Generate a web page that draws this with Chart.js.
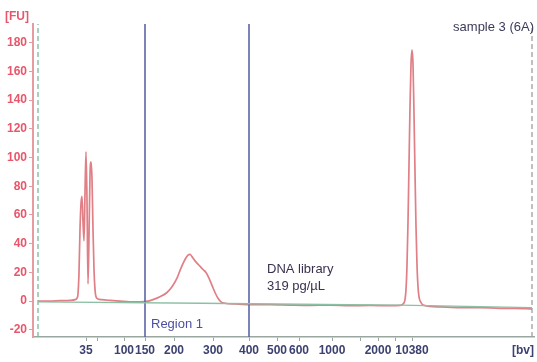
<!DOCTYPE html>
<html>
<head>
<meta charset="utf-8">
<script src="https://cdn.jsdelivr.net/npm/chart.js@4"></script>
<style>
  html, body { margin: 0; padding: 0; background: #fff; }
  #wrap { width: 537px; height: 362px; }
</style>
</head>
<body>
<div id="wrap"><canvas id="chart"></canvas></div>
<script>
// migration position (x) vs fluorescence [FU] (y)
const traceX = [38, 50, 60, 70, 75, 77, 78, 79, 80, 81, 82, 83, 84, 85, 86, 87, 88, 89, 90, 91, 92, 93, 94, 95, 96, 98, 102, 110, 120, 130, 140, 148,
  153, 160, 167, 172, 177, 181, 185, 188, 190, 192, 195, 199, 203, 206, 209, 212, 215, 218, 221, 225, 235, 250, 270, 290, 310, 330, 350, 370, 390, 400,
  403, 405, 406, 407, 408, 409, 410, 411, 412, 413, 414, 415, 416, 417, 418, 419, 421, 424, 440, 460, 480, 500, 515, 532];
const traceY = [0, 0, 0.3, 0.5, 1, 2, 5, 20, 50, 68, 73, 55, 42, 75, 104, 70, 12, 45, 88, 97, 85, 50, 22, 8, 3, 1.5, 1, 0.5, 0, -0.5, -0.5, 0,
  1, 3, 6, 10, 16, 23, 29, 32, 32.5, 31, 28, 25, 22, 20, 16, 11, 6, 2, -0.5, -1.5, -2, -2.5, -2.5, -2.8, -3, -2.8, -3.2, -3, -3.2, -3,
  -2, 1, 8, 25, 55, 95, 135, 165, 175, 165, 130, 90, 52, 25, 10, 3, -1, -3, -4, -4.5, -4.5, -5, -5, -5.5];

// baseline fit
const baseX = [38, 200, 400, 532];
const baseY = [-0.5, -1.5, -2.8, -4.5];

// region 1 bounds (150 bp .. 400 bp) and marker window
const regionX = [145, 249];
const markerX = [38, 532];

// axis ticks
const yTicks = [-20, 0, 20, 40, 60, 80, 100, 120, 140, 160, 180];
const xTickPos = [86, 97, 124, 145, 174, 213, 249, 277, 299, 332, 360, 378, 395, 412];
const xTickLabels = ['35', '', '100', '150', '200', '300', '400', '500', '600', '1000', '', '2000', '', '10380'];

const yMin = -25, yMax = 193;
const xMin = 33, xMax = 534;

const pts = (xs, ys) => xs.map((x, i) => ({ x: x, y: ys[i] }));
const vline = (x) => [{ x: x, y: yMin }, { x: x, y: yMax }];

const FONT = "'Liberation Sans', Arial, sans-serif";

const labelsPlugin = {
  id: 'labels',
  afterDraw(chart) {
    const ctx = chart.ctx;
    const xs = chart.scales.x, ys = chart.scales.y;
    ctx.save();
    ctx.textBaseline = 'middle';

    ctx.font = 'bold 12px ' + FONT;
    ctx.fillStyle = '#e8566b';
    ctx.textAlign = 'left';
    ctx.fillText('[FU]', 5, 17);

    ctx.fillStyle = '#3c4170';
    ctx.textAlign = 'right';
    ctx.fillText('[bv]', 534, 351);

    ctx.font = '13px ' + FONT;
    ctx.fillStyle = '#4b50a0';
    ctx.textAlign = 'left';
    ctx.fillText('Region 1', xs.getPixelForValue(regionX[0]) + 6, ys.getPixelForValue(-16));

    ctx.fillStyle = '#3a3150';
    ctx.fillText('DNA library', 267, 269);
    ctx.fillText('319 pg/µL', 267, 286);

    ctx.fillStyle = '#3b3b5a';
    ctx.textAlign = 'right';
    ctx.fillText('sample 3 (6A)', 534, 27);
    ctx.restore();
  }
};

new Chart(document.getElementById('chart'), {
  type: 'scatter',
  data: {
    datasets: [
      { data: pts(baseX, baseY), showLine: true, borderColor: '#8cc0a4', borderWidth: 1.3, pointRadius: 0 },
      { data: vline(markerX[0]), showLine: true, borderColor: '#7fb59a', borderWidth: 1.3, borderDash: [5, 3], pointRadius: 0 },
      { data: vline(markerX[1]), showLine: true, borderColor: '#9aa0a0', borderWidth: 1.3, borderDash: [5, 3], pointRadius: 0 },
      { data: vline(regionX[0]), showLine: true, borderColor: '#5a64a8', borderWidth: 1.6, pointRadius: 0 },
      { data: vline(regionX[1]), showLine: true, borderColor: '#5a64a8', borderWidth: 1.6, pointRadius: 0 },
      { data: pts(traceX, traceY), showLine: true, borderColor: '#e07f86', borderWidth: 1.7, pointRadius: 0,
        cubicInterpolationMode: 'monotone' }
    ]
  },
  options: {
    responsive: true,
    maintainAspectRatio: false,
    animation: false,
    layout: { padding: { top: 24, right: 3, left: 0, bottom: 0 } },
    plugins: { legend: { display: false }, tooltip: { enabled: false } },
    scales: {
      x: {
        type: 'linear', min: xMin, max: xMax,
        afterFit: (s) => { s.height = 25; },
        afterBuildTicks: (s) => { s.ticks = xTickPos.map(v => ({ value: v })); },
        grid: { drawOnChartArea: false, drawTicks: true, tickLength: 4, color: '#9aa7a0' },
        border: { color: '#9aa7a0', width: 1.5 },
        ticks: {
          autoSkip: false, maxRotation: 0, padding: 2,
          color: '#3c4170', font: { family: FONT, size: 12, weight: 'bold' },
          callback: (v) => { const i = xTickPos.indexOf(v); return i >= 0 ? xTickLabels[i] : ''; }
        }
      },
      y: {
        min: yMin, max: yMax,
        afterFit: (s) => { s.width = 33; },
        afterBuildTicks: (s) => { s.ticks = yTicks.map(v => ({ value: v })); },
        grid: { drawOnChartArea: false, drawTicks: true, tickLength: 4, color: '#e79aa0' },
        border: { color: '#e79aa0', width: 2 },
        ticks: { padding: 2, color: '#e8566b', font: { family: FONT, size: 12, weight: 'bold' } }
      }
    }
  },
  plugins: [labelsPlugin]
});
</script>
</body>
</html>
